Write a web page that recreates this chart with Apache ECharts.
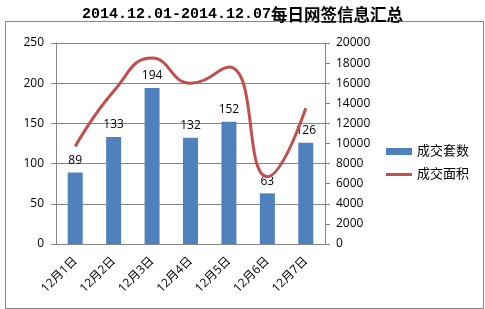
<!DOCTYPE html>
<html><head><meta charset="utf-8">
<script src="https://cdn.jsdelivr.net/npm/echarts@6/dist/echarts.min.js"></script>
<style>html,body{margin:0;padding:0;background:#fff}#c{width:485px;height:309px}</style>
</head><body><div id="c"></div>
<script>
var categories = ['12月1日','12月2日','12月3日','12月4日','12月5日','12月6日','12月7日'];
var countValues = [89, 133, 194, 132, 152, 63, 126];
var areaValues = [9700, 15200, 18500, 16000, 17600, 6700, 13500];
var seriesNames = ['成交套数', '成交面积'];
var titleDate = '2014.12.01-2014.12.07';
var titleText = '每日网签信息汇总';

var font = '"Open Sans", "Noto Sans CJK SC", sans-serif';
var chart = echarts.init(document.getElementById('c'), null, {renderer: 'canvas'});
chart.setOption({
  animation: false,
  backgroundColor: '#fff',
  graphic: [{
    type: 'rect', left: 3, top: 19, shape: {width: 478, height: 287},
    style: {fill: 'none', stroke: '#868686', lineWidth: 1}, silent: true
  }],
  title: {
    text: '{a|' + titleDate + '}{b|' + titleText + '}',
    left: 'center', top: 1,
    textStyle: {
      rich: {
        a: {fontFamily: '"Liberation Mono", monospace', fontSize: 15, fontWeight: 'bold', color: '#000'},
        b: {fontFamily: '"Noto Sans CJK SC"', fontSize: 16.5, fontWeight: 'bold', color: '#000'}
      }
    }
  },
  legend: {
    orient: 'vertical', left: 381, top: 140, itemWidth: 26, itemHeight: 7, itemGap: 10,
    textStyle: {fontFamily: font, fontSize: 13, color: '#000'},
    data: [{name: seriesNames[0], icon: 'rect'},
           {name: seriesNames[1], icon: 'path://M0,2H26V5H0Z', itemStyle: {color: '#C0504D'}}]
  },
  grid: {left: 56, right: 160, top: 43, bottom: 65, containLabel: false},
  xAxis: {
    type: 'category', data: categories,
    axisLine: {lineStyle: {color: '#868686'}},
    axisTick: {length: 4, lineStyle: {color: '#868686'}},
    axisLabel: {rotate: 45, fontFamily: font, fontSize: 12, color: '#000', margin: 15}
  },
  yAxis: [{
    type: 'value', min: 0, max: 250, interval: 50,
    axisLine: {show: true, lineStyle: {color: '#868686'}},
    axisTick: {show: true, length: 5, lineStyle: {color: '#868686'}},
    axisLabel: {fontFamily: font, fontSize: 12, color: '#000', margin: 12},
    splitLine: {lineStyle: {color: '#868686'}}
  }, {
    type: 'value', min: 0, max: 20000, interval: 2000, position: 'right',
    axisLine: {show: true, lineStyle: {color: '#868686'}},
    axisTick: {show: true, length: 5, lineStyle: {color: '#868686'}},
    axisLabel: {fontFamily: font, fontSize: 12, color: '#000', margin: 11,
      formatter: function (v) { return String(v); }},
    splitLine: {show: false}
  }],
  series: [{
    name: seriesNames[0], type: 'bar', data: countValues, barWidth: 15,
    itemStyle: {color: '#4F81BD'},
    label: {show: true, position: 'top', distance: 6, fontFamily: font, fontSize: 12, color: '#000'}
  }, {
    name: seriesNames[1], type: 'line', yAxisIndex: 1, data: areaValues,
    smooth: 0.5, symbol: 'none',
    lineStyle: {color: '#C0504D', width: 3},
    itemStyle: {color: '#C0504D'}
  }]
});
</script></body></html>
